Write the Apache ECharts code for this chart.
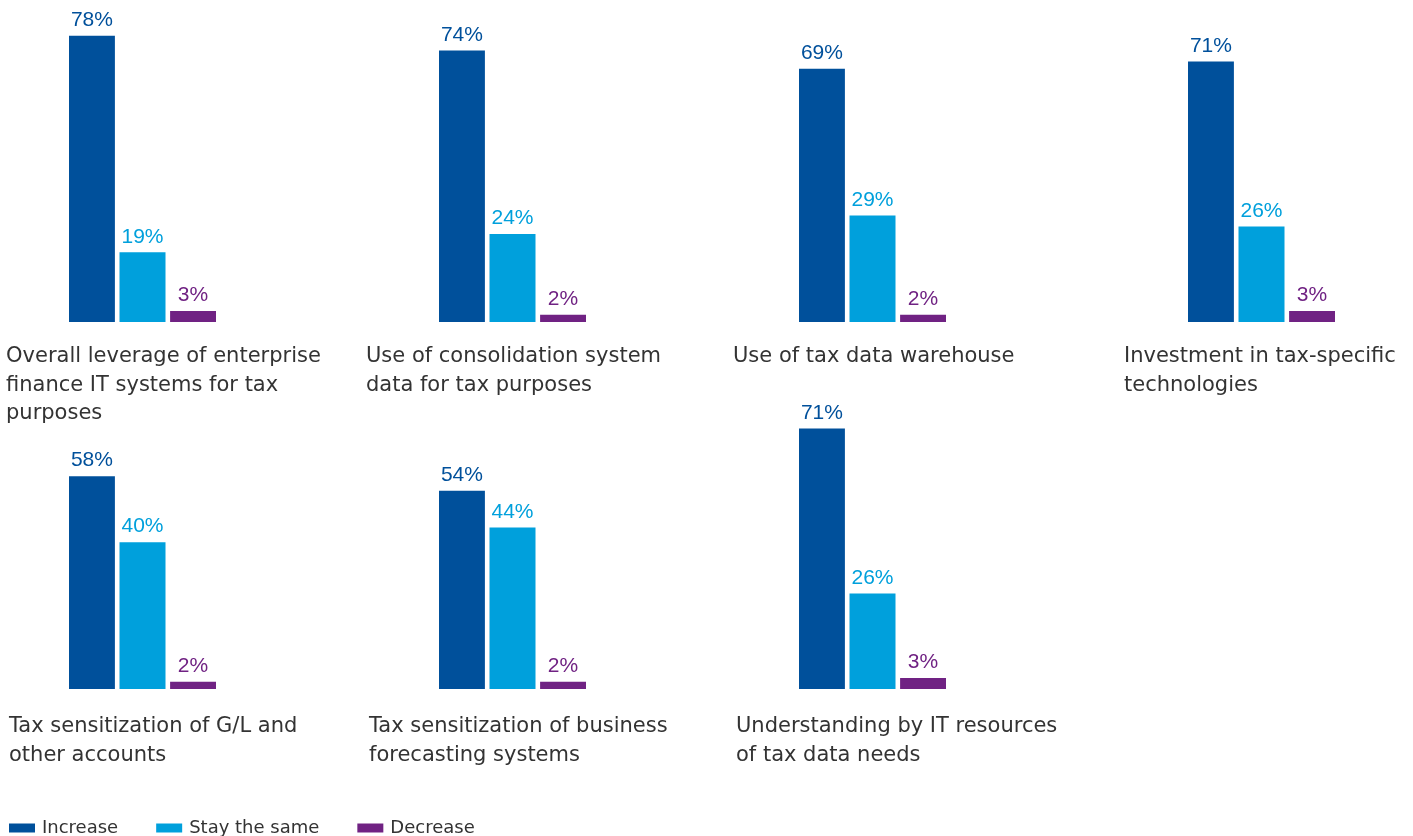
<!DOCTYPE html>
<html>
<head>
<meta charset="utf-8">
<script src="https://cdn.jsdelivr.net/npm/echarts@6/dist/echarts.min.js"></script>
<style>
  html, body { margin: 0; padding: 0; background: #ffffff; }
  #chart { width: 1413px; height: 836px; }
</style>
</head>
<body>
<div id="chart"></div>
<script>
// Survey areas, one small bar panel each
const topics = [
  'Overall leverage of enterprise\nfinance IT systems for tax\npurposes',
  'Use of consolidation system\ndata for tax purposes',
  'Use of tax data warehouse',
  'Investment in tax-specific\ntechnologies',
  'Tax sensitization of G/L and\nother accounts',
  'Tax sensitization of business\nforecasting systems',
  'Understanding by IT resources\nof tax data needs'
];

// Share of respondents (%) per answer
const increase    = [78, 74, 69, 71, 58, 54, 71];
const stayTheSame = [19, 24, 29, 26, 40, 44, 26];
const decrease    = [3, 2, 2, 3, 2, 2, 3];

const seriesNames = ['Increase', 'Stay the same', 'Decrease'];
const seriesColors = ['#00509b', '#00a0dc', '#702283'];

// Panel placement: bar group left edge, baseline, label anchor
const panelLeft   = [69, 439, 799, 1188, 69, 439, 799];
const panelBottom = [322, 322, 322, 322, 689, 689, 689];
const labelLeft   = [6, 366, 733, 1124, 9, 369, 736];
const labelTop    = [342, 342, 342, 342, 712, 712, 712];

const AXIS_MAX = 80;
const PX_PER_UNIT = 3.67;
const GROUP_WIDTH = 147;

const grids = [], xAxes = [], yAxes = [], series = [], titles = [];
const values = [increase, stayTheSame, decrease];

topics.forEach((topic, i) => {
  const h = AXIS_MAX * PX_PER_UNIT;
  grids.push({
    left: panelLeft[i],
    top: panelBottom[i] - h,
    width: GROUP_WIDTH,
    height: h,
    containLabel: false
  });
  xAxes.push({
    gridIndex: i, type: 'category', data: [topic],
    show: false, boundaryGap: true
  });
  yAxes.push({
    gridIndex: i, type: 'value', min: 0, max: AXIS_MAX, show: false
  });
  seriesNames.forEach((name, k) => {
    series.push({
      name: name,
      type: 'bar',
      xAxisIndex: i,
      yAxisIndex: i,
      data: [values[k][i]],
      barWidth: 46,
      barGap: '10%',
      itemStyle: { color: seriesColors[k] },
      label: {
        show: true,
        position: 'top',
        distance: 5,
        formatter: '{c}%',
        color: seriesColors[k],
        fontFamily: '"Liberation Sans", Arial, sans-serif',
        fontSize: 21
      },
      emphasis: { disabled: true },
      animation: false
    });
  });
  titles.push({
    text: topic,
    left: labelLeft[i],
    top: labelTop[i],
    padding: 0,
    textStyle: {
      fontFamily: '"DejaVu Sans", sans-serif',
      fontWeight: 'normal',
      fontSize: 21,
      lineHeight: 28.7,
      color: '#333333'
    }
  });
});

const chart = echarts.init(document.getElementById('chart'), null, { renderer: 'canvas' });
chart.setOption({
  backgroundColor: '#ffffff',
  animation: false,
  title: titles,
  grid: grids,
  xAxis: xAxes,
  yAxis: yAxes,
  legend: {
    data: seriesNames,
    left: 9,
    top: 819,
    padding: 0,
    icon: 'rect',
    itemWidth: 26,
    itemHeight: 9,
    itemGap: 38,
    selectedMode: false,
    textStyle: {
      fontFamily: '"DejaVu Sans", sans-serif',
      fontSize: 18,
      color: '#333333',
      padding: [0, 0, 0, 2]
    }
  },
  series: series
});
</script>
</body>
</html>
